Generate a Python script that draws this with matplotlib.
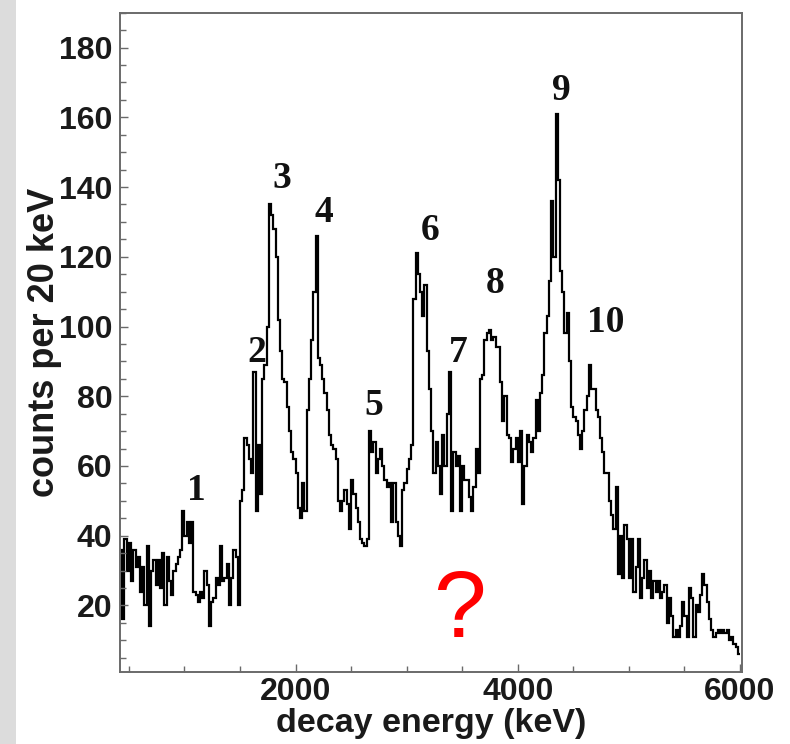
import matplotlib
matplotlib.use("Agg")
import matplotlib.pyplot as plt
import numpy as np
from matplotlib.ticker import MultipleLocator, FixedLocator
from matplotlib.patches import Rectangle

# ---------------- data (counts per 20 keV bin) ----------------
bin_width = 20          # keV
first_edge = 420        # keV, lower edge of first bin

counts_420_1480 = [36, 16, 39, 30, 38, 27, 36, 31, 34, 24,
                   31, 20, 37, 14, 30, 33, 26, 33, 25, 35,
                   20, 34, 27, 23, 30, 32, 34, 36, 47, 40,
                   44, 38, 44, 24, 23, 21, 24, 22, 30, 26,
                   14, 21, 22, 28, 26, 37, 27, 28, 32, 20,
                   28, 36, 34, 20]
counts_1500_2380 = [50, 53, 68, 66, 62, 58, 87, 47, 66, 52,
                    85, 89, 100, 135, 132, 128, 120, 102, 93, 85,
                    84, 77, 70, 64, 62, 58, 48, 45, 55, 47,
                    76, 85, 96, 110, 126, 91, 89, 85, 81, 76,
                    69, 66, 65, 62, 50]
counts_2400_3280 = [47, 50, 53, 49, 42, 56, 52, 48, 44, 39,
                    38, 37, 39, 70, 64, 67, 58, 62, 65, 60,
                    56, 54, 55, 44, 55, 44, 40, 37, 53, 55,
                    59, 62, 66, 108, 121, 115, 110, 103, 112, 93,
                    82, 70, 58, 67, 60]
counts_3300_4080 = [52, 69, 60, 75, 87, 47, 64, 60, 63, 47,
                    60, 56, 56, 51, 47, 54, 65, 58, 85, 86,
                    96, 98, 99, 96, 97, 94, 94, 84, 73, 80,
                    69, 68, 61, 65, 68, 61, 70, 49, 60, 69]
counts_4100_4820 = [67, 64, 68, 79, 70, 81, 86, 98, 103, 113,
                    136, 120, 161, 142, 116, 110, 98, 104, 90, 77,
                    74, 73, 69, 65, 70, 76, 80, 89, 82, 82,
                    76, 74, 68, 64, 58, 58, 50]
counts_4840_5980 = [46, 42, 54, 29, 40, 28, 43, 39, 28, 39,
                    24, 31, 39, 22, 28, 33, 25, 30, 22, 27,
                    24, 27, 22, 24, 26, 15, 22, 17, 11, 13,
                    11, 14, 21, 17, 11, 25, 22, 11, 20, 18,
                    23, 29, 26, 21, 16, 13, 11, 12, 13, 12,
                    13, 12, 13, 10, 11, 9, 8, 6]

peak_labels = ["1", "2", "3", "4", "5", "6", "7", "8", "9", "10"]
peak_label_energy = [1104, 1652, 1877, 2255, 2705, 3208, 3460, 3793, 4396, 4792]
peak_label_counts = [50.2, 89.8, 139.7, 130.0, 74.6, 124.7, 89.8, 109.6, 164.9, 98.4]

x_major_ticks = [2000, 4000, 6000]
y_major_ticks = [20, 40, 60, 80, 100, 120, 140, 160, 180]

counts = np.concatenate([counts_420_1480, counts_1500_2380, counts_2400_3280,
                         counts_3300_4080, counts_4100_4820, counts_4840_5980])
edges = first_edge + bin_width * np.arange(len(counts) + 1)

# ---------------- figure ----------------
fig = plt.figure(figsize=(7.9, 7.44), dpi=100)
fig.patches.append(Rectangle((0, 0), 16 / 790, 1, transform=fig.transFigure,
                             facecolor="#dcdcdc", edgecolor="none", zorder=0))

ax = fig.add_axes([120 / 790, 1 - 671.7 / 744, (741.7 - 120) / 790, (671.7 - 12.7) / 744])
ax.stairs(counts, edges, baseline=None, color="black", lw=1.6)

ax.set_xlim(420, 6015)
ax.set_ylim(1, 190)

ax.xaxis.set_major_locator(FixedLocator(x_major_ticks))
ax.xaxis.set_minor_locator(MultipleLocator(500))
ax.yaxis.set_major_locator(FixedLocator(y_major_ticks))
ax.yaxis.set_minor_locator(MultipleLocator(5))

for s in ax.spines.values():
    s.set_color("#6a6a6a")
    s.set_linewidth(1.4)

ax.tick_params(which="both", direction="in", color="#6a6a6a", width=1.0,
               top=False, right=False)
ax.tick_params(which="major", length=6)
ax.tick_params(which="minor", length=4)
ax.tick_params(axis="y", which="major", pad=5.5)
ax.tick_params(axis="x", which="major", pad=4)
for lab in ax.get_xticklabels() + ax.get_yticklabels():
    lab.set_fontfamily("Liberation Sans")
    lab.set_fontweight("bold")
    lab.set_fontsize(23)
    lab.set_color("#1a1a1a")

ax.set_xlabel("decay energy (keV)", family="Liberation Sans", weight="bold",
              size=24.5, color="#1a1a1a")
ax.set_ylabel("counts per 20 keV", family="Liberation Sans", weight="bold",
              size=26, color="#1a1a1a")
ax.xaxis.set_label_coords(0.5, (671.7 - 708) / 659.0)
ax.yaxis.set_label_coords((62 - 120) / 621.7, 0.5)

for txt, e, c in zip(peak_labels, peak_label_energy, peak_label_counts):
    ax.text(e, c, txt, ha="center", va="baseline",
            fontfamily="Liberation Serif", fontweight="bold", fontsize=27, color="#111111")

ax.text(3478, 11.0, "?", ha="center", va="baseline", color="red",
        fontfamily="Liberation Sans", fontsize=68)

fig.savefig("out.png", dpi=100)
